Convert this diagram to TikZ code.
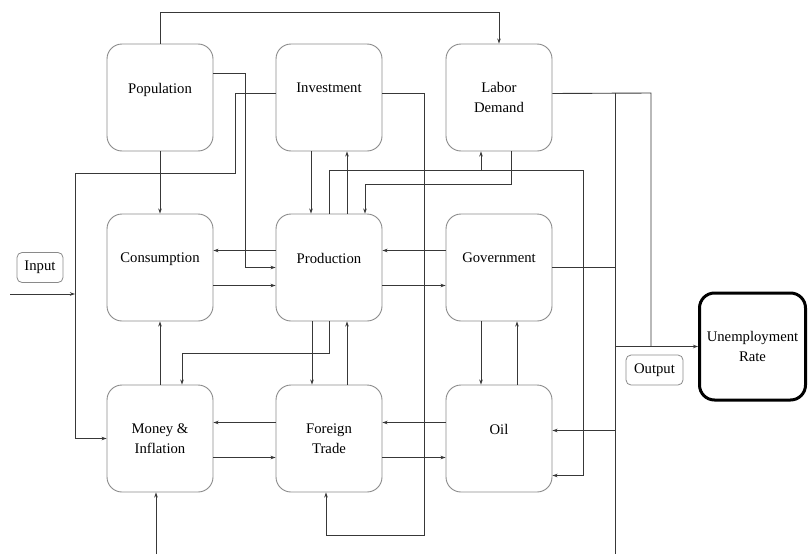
\documentclass[tikz,border=0pt]{standalone}
\usepackage{fontspec}
\setmainfont{Liberation Serif}
\usetikzlibrary{arrows.meta}
\definecolor{boxgray}{HTML}{8A8A8A}
\definecolor{linegray}{HTML}{383838}

\begin{document}
\begin{tikzpicture}[x=1pt, y=-1pt,
  block/.style={draw=boxgray, line width=0.9pt, rounded corners=15pt, minimum width=106pt, minimum height=107pt, inner sep=0pt, align=center, font=\fontsize{14.7}{20}\selectfont},
  oneline/.style={text depth=19pt},
  tag/.style={draw=boxgray, line width=0.8pt, rounded corners=5pt, minimum height=30pt, inner sep=0pt, font=\fontsize{14.7}{20}\selectfont},
  link/.style={draw=linegray, line width=0.9pt},
  arr/.style={link, -{Stealth[length=5pt,width=3.5pt]}}]

\useasboundingbox (0,0) rectangle (808,554);

% blocks of the model
\path
(160,97.5) node[block, oneline](population) {Population}
(329,97.5) node[block, oneline](investment) {Investment}
(499,97.5) node[block](labor) {Labor\\Demand}
(160,267.5) node[block, oneline](consumption) {Consumption}
(329,267.5) node[block, oneline](production) {Production}
(499,267.5) node[block, oneline](government) {Government}
(160,438.5) node[block](money) {Money \&\\Inflation}
(329,438.5) node[block](foreign) {Foreign\\Trade}
(499,438.5) node[block, oneline](oil) {Oil}
(752.5,346.5) node[block, line width=3pt, draw=black](unemployment) {Unemployment\\Rate}
(40,267.5) node[tag, minimum width=46pt](input) {Input}
(654.5,370) node[tag, minimum width=57pt](output) {Output};

% bus points
\coordinate (leftbus) at (75,294);
\coordinate (inputstart) at (10,294);
\coordinate (labortap) at (481,170);
\coordinate (rbustop) at (615,93);
\coordinate (rbusbottom) at (615,554);
\coordinate (obustop) at (651,93);
\coordinate (oiltap) at ([yshift=8pt]oil.east);
\coordinate (moneyin) at (156,554);

%% outer loops
\draw[arr] (population.north) -- ++(0,-31) -| (labor.north);
\draw[arr] ([yshift=24pt]population.east) -| ([xshift=-30pt]production.west) -- (production.west);
\draw[arr] ([yshift=4pt]investment.west) -| (235,173) -| (leftbus |- money.west) -- (money.west);
\draw[arr] (inputstart) -- (leftbus);
\draw[arr] ([yshift=4pt]investment.east) -| (424,535) -| ([xshift=-3pt]foreign.south);
\draw[arr] (production.north) |- (583,170) |- ([yshift=-37pt]oil.east);
\draw[arr] (labortap) -- (labortap |- labor.south);
\draw[arr] ([xshift=12pt]labor.south) |- (365,184) -- ([xshift=36pt]production.north);
\draw[arr] (production.south) |- (182,353) -- ([xshift=22pt]money.north);
\draw[arr] (moneyin) -- (moneyin |- money.south);

%% vertical links
\draw[arr] (population.south) -- (consumption.north);
\draw[arr] (money.north) -- (consumption.south);
\draw[arr] ([xshift=-18pt]investment.south) -- ([xshift=-18pt]production.north);
\draw[arr] ([xshift=18pt]production.north) -- ([xshift=18pt]investment.south);
\draw[arr] ([xshift=-17pt]production.south) -- ([xshift=-17pt]foreign.north);
\draw[arr] ([xshift=18pt]foreign.north) -- ([xshift=18pt]production.south);
\draw[arr] ([xshift=-18pt]government.south) -- ([xshift=-18pt]oil.north);
\draw[arr] ([xshift=18pt]oil.north) -- ([xshift=18pt]government.south);

%% horizontal links
\draw[arr] ([yshift=17pt]production.west) -- ([yshift=17pt]consumption.east);
\draw[arr] ([yshift=-18pt]consumption.east) -- ([yshift=-18pt]production.west);
\draw[arr] ([yshift=17pt]government.west) -- ([yshift=17pt]production.east);
\draw[arr] ([yshift=-18pt]production.east) -- ([yshift=-18pt]government.west);
\draw[arr] ([yshift=16pt]foreign.west) -- ([yshift=16pt]money.east);
\draw[arr] ([yshift=-19pt]money.east) -- ([yshift=-19pt]foreign.west);
\draw[arr] ([yshift=16pt]oil.west) -- ([yshift=16pt]foreign.east);
\draw[arr] ([yshift=-19pt]foreign.east) -- ([yshift=-19pt]oil.west);

%% output side
\draw[link] ([yshift=4pt]labor.east) -- (obustop) -- (obustop |- unemployment.west);
\draw[link] (rbustop) -- (rbusbottom);
\draw[link] (government.east) -- (government.east -| rbustop);
\draw[arr] (oiltap -| rbustop) -- (oiltap);
\draw[arr] (rbustop |- unemployment.west) -- (unemployment.west);

\end{tikzpicture}
\end{document}
